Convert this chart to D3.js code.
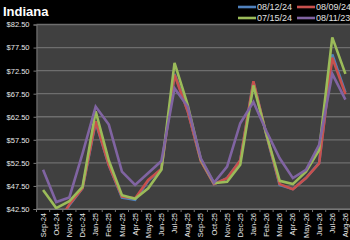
<!DOCTYPE html>
<html>
<head>
<meta charset="utf-8">
<script src="https://cdn.jsdelivr.net/npm/d3@7"></script>
<style>
  body { margin: 0; background: #000; }
  svg { display: block; font-family: "Liberation Sans", Arial, sans-serif; }
</style>
</head>
<body>
<svg width="350" height="240"></svg>
<script>
// Month categories
var months = ["Sep-24", "Oct-24", "Nov-24", "Dec-24", "Jan-25", "Feb-25", "Mar-25", "Apr-25",
  "May-25", "Jun-25", "Jul-25", "Aug-25", "Sep-25", "Oct-25", "Nov-25", "Dec-25",
  "Jan-26", "Feb-26", "Mar-26", "Apr-26", "May-26", "Jun-26", "Jul-26", "Aug-26"];

// Series values
var s081224 = [40, 39, 43.3, 47, 61.3, 52, 45.0, 44.5, 48.6, 51.2, 71.8, 63.8,
  53, 47.9, 49.2, 53, 70, 58.4, 47.7, 46.8, 49.2, 52.5, 76, 67.8];
var s080924 = [40, 39, 43.5, 47, 61.5, 52, 45.2, 44.8, 48.8, 51.2, 71.6, 63.7,
  52.9, 47.9, 49.2, 53, 70.2, 58.5, 47.9, 46.8, 49.2, 52.4, 75.3, 67.4];
var s071524 = [46.6, 42.7, 44.2, 47.3, 63.7, 53, 45.5, 44.7, 47, 51, 74.2, 65.1,
  53.2, 48.1, 48.4, 52.1, 69.3, 58.6, 48.6, 47.9, 50.6, 55.3, 79.7, 71.8];
var s081123 = [51, 44, 45, 54.5, 64.7, 60.8, 50.6, 47.7, 50.3, 52.9, 68.7, 64.7,
  53.5, 48.2, 51.7, 61.1, 65.7, 59.3, 53.5, 49.2, 51, 56.4, 71.8, 66.2];

var seriesNames = ["08/12/24", "08/09/24", "07/15/24", "08/11/23"];
var seriesValues = [s081224, s080924, s071524, s081123];
var seriesColors = ["#4f81bd", "#c8504d", "#9bbb59", "#8064a2"];

// Y ticks
var yTicks = [42.5, 47.5, 52.5, 57.5, 62.5, 67.5, 72.5, 77.5, 82.5];

var svg = d3.select("svg");

var plot = { left: 36.5, top: 24.5, right: 352, bottom: 209 };

var x = d3.scaleBand().domain(months).range([plot.left, plot.right]).padding(0);
var y = d3.scaleLinear().domain([42.5, 82.5]).range([plot.bottom, plot.top]);

// Title
svg.append("text")
  .attr("x", 3)
  .attr("y", 16)
  .attr("fill", "#fff")
  .style("font-size", "13px")
  .style("font-weight", "bold")
  .text("Indiana");

// Plot background
svg.append("rect")
  .attr("x", plot.left)
  .attr("y", plot.top)
  .attr("width", 350 - plot.left)
  .attr("height", plot.bottom - plot.top)
  .attr("fill", "#404040");

svg.append("clipPath").attr("id", "clip")
  .append("rect")
  .attr("x", plot.left)
  .attr("y", plot.top)
  .attr("width", 350 - plot.left)
  .attr("height", plot.bottom - plot.top);

// Gridlines
svg.append("g")
  .selectAll("line")
  .data(yTicks)
  .enter()
  .append("line")
  .attr("x1", plot.left)
  .attr("x2", 350)
  .attr("y1", (d) => y(d))
  .attr("y2", (d) => y(d))
  .attr("stroke", "#6e6e6e")
  .attr("stroke-width", 1.3);

// Y axis
var yAxis = svg.append("g")
  .attr("transform", "translate(" + plot.left + ",0)")
  .call(d3.axisLeft(y).tickValues(yTicks).tickSize(3).tickPadding(4)
    .tickFormat((d) => "$" + d.toFixed(2)));
yAxis.select(".domain").attr("stroke", "#777");
yAxis.selectAll(".tick line").attr("stroke", "#777");
yAxis.selectAll("text")
  .attr("fill", "#e8e8e8")
  .style("font-size", "7.5px");

// X axis
var xAxis = svg.append("g")
  .attr("transform", "translate(0," + plot.bottom + ")")
  .call(d3.axisBottom(x).tickSize(3).tickSizeOuter(0).tickPadding(3));
xAxis.select(".domain").attr("stroke", "#777");
xAxis.selectAll(".tick line")
  .attr("stroke", "#777")
  .attr("transform", "translate(" + (-x.bandwidth() / 2) + ",0)");
xAxis.selectAll("text")
  .attr("fill", "#e8e8e8")
  .style("font-size", "7.5px")
  .style("text-anchor", "end")
  .attr("dy", "0.35em")
  .attr("transform", "translate(0,4) rotate(-90)")
  .attr("x", 0)
  .attr("y", 0);

// Lines
var line = d3.line()
  .x((d, i) => x(months[i]) + x.bandwidth() / 2)
  .y((d) => y(d));

svg.append("g")
  .attr("clip-path", "url(#clip)")
  .selectAll("path")
  .data(seriesValues)
  .enter()
  .append("path")
  .attr("d", (d) => line(d))
  .attr("fill", "none")
  .attr("stroke", (d, i) => seriesColors[i])
  .attr("stroke-width", 2.6)
  .attr("stroke-linejoin", "miter");

// Legend
var legendPos = [[238, 7], [297, 7], [238, 18], [297, 18]];
var legend = svg.append("g")
  .selectAll("g")
  .data(seriesNames)
  .enter()
  .append("g")
  .attr("transform", (d, i) => "translate(" + legendPos[i][0] + "," + legendPos[i][1] + ")");

legend.append("line")
  .attr("x1", 0)
  .attr("x2", 18)
  .attr("stroke", (d, i) => seriesColors[i])
  .attr("stroke-width", 2.6);

legend.append("text")
  .attr("x", 19)
  .attr("dy", "0.35em")
  .attr("fill", "#e0e0e0")
  .style("font-size", "9px")
  .text((d) => d);
</script>
</body>
</html>
